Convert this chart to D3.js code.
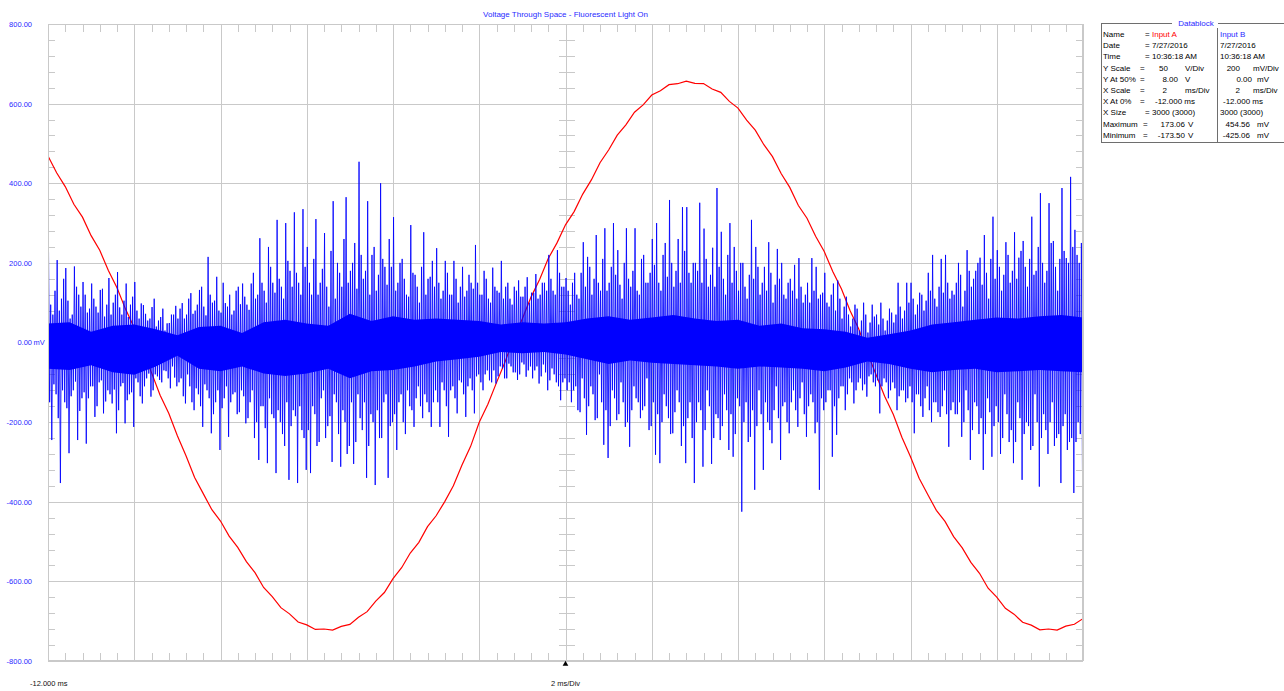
<!DOCTYPE html>
<html><head><meta charset="utf-8">
<script src="https://cdn.jsdelivr.net/npm/d3@7"></script>
<style>
html,body{margin:0;padding:0;background:#fff;overflow:hidden}
svg{display:block}
text{font-family:"Liberation Sans",Arial,sans-serif;font-size:8px}
</style></head><body>
<svg id="chart" width="1284" height="691"></svg>
<script>
// ---------- data ----------
const chartTitle = "Voltage Through Space - Fluorescent Light On";
const xMajorTicks = [-12,-10,-8,-6,-4,-2,0,2,4,6,8,10,12];           // ms
const yMajorTicks = [-800,-600,-400,-200,0,200,400,600,800];          // mV
const yTickLabels = ["-800.00","-600.00","-400.00","-200.00","0.00","200.00","400.00","600.00","800.00"];
const yUnitLabel = "mV";
const xStartLabel = "-12.000 ms";
const xDivLabel = "2 ms/Div";

// Input A (V), sampled every 0.2 ms from -12 ms
const inputAStart = -12, inputAStep = 0.2;
const inputA = [125.1,114.6,105.9,94.8,86.7,75.1,65.9,53.2,42.4,28.8,
17.3,2.4,-10.9,-25.1,-36.4,-50.6,-63.1,-76.8,-86.9,-97.0,
-104.1,-113.6,-120.7,-129.6,-136.5,-145.8,-151.6,-158.5,-162.4,-167.5,
-169.3,-172.2,-171.9,-172.6,-170.3,-169.0,-164.5,-161.0,-154.4,-149.0,
-140.3,-133.4,-124.2,-117.5,-107.6,-100.8,-91.9,-81.9,-68.9,-57.2,
-42.1,-30.8,-17.2,-4.1,10.8,22.9,36.5,47.6,60.7,70.4,
81.9,90.2,101.2,110.1,120.9,128.9,138.2,144.7,152.6,157.2,
163.4,166.1,169.9,170.5,172.1,170.7,170.6,167.2,165.1,159.4,
155.2,147.6,141.3,132.2,124.7,114.1,105.4,94.0,86.0,74.7,
65.1,52.4,41.6,27.9,16.5,1.5,-12.1,-25.8,-37.1,-51.5,
-63.8,-77.3,-87.5,-97.4,-104.3,-113.9,-121.0,-130.1,-136.9,-146.3,
-151.9,-158.9,-162.6,-167.7,-169.5,-172.4,-171.9,-172.6,-170.1,-168.9,
-165.4];
const inputAScale = 50, inputAAt50 = 8.00;   // V/Div, V at 50%

// Input B (mV): per 0.1 ms slot, largest spike up / down
const inputBStart = -12, inputBStep = 0.1;
const inputBHigh = [
227,70,207,110,187,60,191,120,152,75,148,90,132,65,162,100,177,70,148,95,152,60,94,55,89,40,64,30,49,70,
60,99,70,124,80,132,90,215,100,165,75,99,120,80,140,148,95,148,110,262,130,240,150,308,140,300,180,327,150,335,
240,120,310,150,275,90,355,200,140,365,180,250,454,160,355,220,130,400,190,260,315,150,210,120,295,170,100,277,160,205,
237,110,205,120,205,100,190,130,150,245,120,180,110,188,130,205,140,110,140,156,115,164,125,172,120,150,220,130,232,140,
162,95,175,110,252,215,120,270,130,287,150,300,232,110,287,140,287,120,220,150,260,300,130,250,358,140,260,340,340,150,
200,351,286,140,238,388,278,120,300,240,130,200,110,308,240,120,190,252,100,235,200,110,160,195,212,100,150,212,190,120,
175,90,148,156,60,115,40,95,30,100,25,95,70,100,30,85,50,150,60,150,150,70,125,80,175,220,90,210,220,110,
120,200,90,232,140,180,213,270,110,316,232,130,252,150,277,213,255,140,316,180,375,150,350,255,130,388,212,416,283,200];
const inputBLow = [
-245,-130,-353,-150,-278,-120,-245,-140,-254,-110,-187,-100,-178,-120,-153,-228,-110,-203,-130,-212,-100,-153,-90,-136,-80,-94,-70,-90,-60,-110,
-90,-153,-110,-170,-130,-212,-120,-228,-150,-270,-140,-237,-130,-180,-120,-203,-150,-240,-295,-160,-303,-180,-328,-200,-260,-345,-170,-353,-220,-320,
-328,-180,-250,-120,-210,-300,-150,-312,-200,-260,-305,-130,-220,-340,-180,-358,-240,-150,-340,-200,-270,-130,-230,-160,-212,-110,-190,-150,-212,-120,
-212,-120,-237,-110,-178,-100,-187,-90,-178,-80,-120,-70,-100,-103,-60,-90,-53,-75,-94,-50,-86,-60,-70,-103,-55,-120,-65,-100,-145,-90,
-100,-120,-170,-90,-232,-110,-195,-80,-257,-290,-120,-195,-100,-212,-262,-110,-150,-170,-90,-210,-282,-303,-130,-190,-228,-120,-260,-303,-150,-353,
-150,-312,-120,-305,-180,-245,-130,-270,-287,-140,-425,-150,-237,-370,-120,-320,-200,-253,-110,-295,-150,-228,-120,-212,-100,-237,-130,-228,-370,-170,
-120,-287,-232,-110,-170,-90,-153,-100,-120,-136,-80,-110,-178,-90,-140,-100,-170,-120,-150,-110,-228,-130,-187,-110,-200,-150,-187,-120,-262,-150,
-180,-237,-120,-295,-150,-230,-320,-140,-287,-160,-280,-130,-250,-303,-150,-345,-200,-270,-130,-362,-180,-280,-150,-240,-353,-180,-250,-378,-200,-320];
// Input B (mV): per 0.1 ms slot, second (smaller) swing up / down
const inputBMidHigh = [
95,130,80,160,105,70,140,90,120,85,110,75,135,95,70,120,88,105,64,115,80,98,72,60,110,55,85,48,70,92,
85,60,110,72,95,140,68,120,105,80,150,90,70,130,96,115,82,175,120,150,100,190,125,160,110,205,140,175,120,190,
150,210,120,185,140,230,110,175,260,150,200,135,220,180,120,240,170,210,145,190,130,200,160,115,175,140,190,120,165,140,
150,130,175,120,160,140,115,170,135,150,120,160,100,140,125,110,150,95,130,115,140,100,125,110,150,130,160,120,175,140,
130,150,120,175,140,190,160,150,210,130,190,170,145,200,160,180,130,210,150,175,195,150,220,165,200,180,150,230,175,200,
180,150,210,170,140,190,160,220,150,180,200,140,170,160,190,150,130,175,145,160,120,150,130,110,140,120,100,130,110,125,
100,120,80,110,90,70,60,85,55,70,50,65,45,60,55,75,70,90,80,100,110,95,120,105,130,110,140,125,150,130,
150,170,130,180,160,200,145,175,210,160,190,170,220,180,160,230,190,210,170,240,200,180,250,190,210,230,200,240,220,250];
const inputBMidLow = [
-150,-105,-190,-120,-165,-135,-98,-172,-125,-140,-110,-160,-95,-148,-130,-118,-170,-102,-145,-125,-90,-135,-110,-78,-120,-85,-100,-72,-115,-88,
-100,-135,-80,-150,-115,-160,-105,-140,-180,-120,-165,-110,-150,-125,-175,-135,-190,-120,-200,-160,-215,-140,-190,-170,-230,-150,-210,-185,-160,-240,
-220,-160,-260,-140,-240,-185,-130,-230,-170,-280,-150,-250,-190,-150,-260,-200,-170,-240,-130,-210,-180,-150,-200,-120,-170,-140,-160,-130,-175,-150,
-150,-100,-160,-120,-140,-95,-130,-110,-120,-85,-100,-80,-95,-70,-85,-65,-90,-60,-75,-80,-55,-70,-90,-60,-85,-75,-95,-80,-110,-100,
-120,-150,-110,-175,-140,-160,-130,-190,-150,-170,-210,-140,-180,-150,-200,-170,-140,-190,-160,-220,-150,-180,-200,-160,-230,-175,-150,-210,-190,-240,
-200,-170,-220,-160,-240,-190,-210,-170,-180,-230,-160,-200,-250,-170,-210,-180,-150,-220,-170,-190,-160,-200,-150,-170,-140,-180,-160,-150,-200,-140,
-150,-120,-160,-140,-110,-130,-100,-120,-90,-105,-85,-100,-95,-110,-100,-120,-115,-135,-120,-140,-150,-130,-160,-140,-170,-150,-175,-160,-180,-170,
-180,-150,-200,-170,-220,-160,-190,-230,-175,-210,-200,-240,-180,-220,-250,-190,-230,-210,-260,-200,-240,-220,-200,-260,-230,-210,-270,-240,-250,-230];
// Input B solid core band (mV), every 0.5 ms
const coreStep = 0.5;
const inputBCoreHigh = [48,51,27,42,45,33,18,39,42,24,51,57,48,42,72,54,66,57,60,57,54,45,51,48,51,60,66,57,63,69,60,54,57,42,48,36,33,27,12,21,30,45,51,57,63,60,66,69,63];
const inputBCoreLow = [-66,-69,-57,-75,-81,-60,-33,-66,-72,-60,-78,-84,-78,-66,-90,-72,-69,-60,-48,-42,-36,-24,-27,-24,-30,-42,-54,-45,-51,-54,-57,-60,-66,-60,-63,-66,-72,-63,-48,-54,-66,-75,-69,-66,-75,-72,-69,-72,-75];

// Datablock
const dbTitle = "Datablock";
const dbNames = ["Name","Date","Time","Y Scale","Y At 50%","X Scale","X At 0%","X Size","Maximum","Minimum"];
const dbValA = ["Input A","7/27/2016","10:36:18 AM","50","8.00","2","-12.000 ms","3000 (3000)","173.06","-173.50"];
const dbUnitA = ["","","","V/Div","V","ms/Div","","","V","V"];
const dbValB = ["Input B","7/27/2016","10:36:18 AM","200","0.00","2","-12.000 ms","3000 (3000)","454.56","-425.06"];
const dbUnitB = ["","","","mV/Div","mV","ms/Div","","","mV","mV"];

// ---------- drawing ----------
const L = 48, R = 1083, T = 24, B = 661;
const svg = d3.select("#chart");
const x = d3.scaleLinear().domain([-12, 12]).range([L, R]);
const y = d3.scaleLinear().domain([-800, 800]).range([B, T]);
const yA = d3.scaleLinear().domain([inputAAt50 - 4*inputAScale, inputAAt50 + 4*inputAScale]).range([B, T]);

const gridColor = "#c9c9c9";
const grid = svg.append("g").attr("stroke", gridColor).attr("stroke-width", 1).attr("shape-rendering", "crispEdges");
grid.selectAll(".vx").data(xMajorTicks).join("line")
  .attr("x1", d => Math.round(x(d)) + 0.5).attr("x2", d => Math.round(x(d)) + 0.5).attr("y1", T).attr("y2", B);
grid.selectAll(".hy").data(yMajorTicks).join("line")
  .attr("y1", d => Math.round(y(d)) + 0.5).attr("y2", d => Math.round(y(d)) + 0.5).attr("x1", L).attr("x2", R);

const xMinor = d3.range(-12, 12.0001, 0.4).filter(v => Math.abs(v/2 - Math.round(v/2)) > 1e-6);
const yMinor = d3.range(-800, 800.1, 40).filter(v => v % 200 !== 0);
const px = v => Math.round(x(v)) + 0.5, py = v => Math.round(y(v)) + 0.5;
const y0 = py(0), x0 = px(0);
xMinor.forEach(v => {
  grid.append("line").attr("x1", px(v)).attr("x2", px(v)).attr("y1", T).attr("y2", T + 8);
  grid.append("line").attr("x1", px(v)).attr("x2", px(v)).attr("y1", B - 8).attr("y2", B);
  grid.append("line").attr("x1", px(v)).attr("x2", px(v)).attr("y1", y0 - 8).attr("y2", y0 + 8);
});
yMinor.forEach(v => {
  grid.append("line").attr("y1", py(v)).attr("y2", py(v)).attr("x1", L).attr("x2", L + 7);
  grid.append("line").attr("y1", py(v)).attr("y2", py(v)).attr("x1", R - 7).attr("x2", R);
  grid.append("line").attr("y1", py(v)).attr("y2", py(v)).attr("x1", x0 - 8).attr("x2", x0 + 8);
});

svg.append("clipPath").attr("id", "plotclip").append("rect").attr("x", L).attr("y", T).attr("width", R - L).attr("height", B - T);
const plot = svg.append("g").attr("clip-path", "url(#plotclip)");

// Input A (red)
const lineA = d3.line().x((d, i) => x(inputAStart + i * inputAStep)).y(d => yA(d));
plot.append("path").datum(inputA).attr("d", lineA).attr("fill", "none").attr("stroke", "#ff0000").attr("stroke-width", 1.2);

// Input B solid core band
const core = inputBCoreHigh.map((h, i) => [h, inputBCoreLow[i]]);
const areaB = d3.area().x((d, i) => x(inputBStart + i * coreStep)).y0(d => y(d[1])).y1(d => y(d[0]));
plot.append("path").datum(core).attr("d", areaB).attr("fill", "#0000ff").attr("stroke", "none");

// Input B trace: spike up, small down, small up, spike down within each slot
const ptsB = [];
inputBHigh.forEach((h, i) => {
  const t = inputBStart + i * inputBStep;
  ptsB.push([t + 0.125 * inputBStep, h]);
  ptsB.push([t + 0.375 * inputBStep, inputBMidLow[i]]);
  ptsB.push([t + 0.625 * inputBStep, inputBMidHigh[i]]);
  ptsB.push([t + 0.875 * inputBStep, inputBLow[i]]);
});
const lineB = d3.line().x(d => x(d[0])).y(d => y(d[1]));
plot.append("path").datum(ptsB).attr("d", lineB).attr("fill", "none").attr("stroke", "#0000ff").attr("stroke-width", 0.85);

// plot border
svg.append("rect").attr("x", L + 0.5).attr("y", T + 0.5).attr("width", R - L - 1).attr("height", B - T - 1)
  .attr("fill", "none").attr("stroke", gridColor).attr("shape-rendering", "crispEdges");

// Y axis labels
const yAxis = d3.axisLeft(y).tickValues(yMajorTicks).tickFormat((d, i) => yTickLabels[i]).tickSize(0).tickPadding(0);
const ya = svg.append("g").attr("transform", "translate(32,0)").call(yAxis);
ya.select(".domain").remove();
ya.selectAll("text").attr("fill", "#2a2aff").style("font-size", "7.5px").style("font-family", "Liberation Sans, Arial, sans-serif");
svg.append("text").attr("x", 33.5).attr("y", y(0)).attr("dy", "0.32em").attr("fill", "#2a2aff").style("font-size", "7.5px").text(yUnitLabel);

// X labels
svg.append("text").attr("x", 30).attr("y", 686).attr("fill", "#111").style("font-size", "7.5px").text(xStartLabel);
svg.append("text").attr("x", x(0)).attr("y", 686).attr("text-anchor", "middle").attr("fill", "#111").style("font-size", "7.5px").text(xDivLabel);
svg.append("path").attr("d", d3.symbol(d3.symbolTriangle).size(14)()).attr("transform", `translate(${x(0)},${B + 3})`).attr("fill", "#000");

// title
svg.append("text").attr("x", x(0)).attr("y", 17).attr("text-anchor", "middle").attr("fill", "#2a2aff").text(chartTitle);

// Datablock
const db = svg.append("g");
const boxL = 1101.5, boxT = 23.5, boxB = 142.5, divX = 1217.5;
db.append("rect").attr("x", boxL).attr("y", boxT).attr("width", 300).attr("height", boxB - boxT)
  .attr("fill", "#fff").attr("stroke", "#6e6e6e").attr("shape-rendering", "crispEdges");
db.append("line").attr("x1", divX).attr("x2", divX).attr("y1", boxT).attr("y2", boxB).attr("stroke", "#6e6e6e").attr("shape-rendering", "crispEdges");
db.append("rect").attr("x", 1172).attr("y", 18).attr("width", 46).attr("height", 10).attr("fill", "#fff");
db.append("text").attr("x", 1196).attr("y", 26).attr("text-anchor", "middle").attr("fill", "#2a2aff").text(dbTitle);

const rowY = [34.5, 45.5, 56.5, 68, 79, 90, 101, 112.5, 124.5, 135.5];
const eqX = [1145, 1145, 1145, 1140, 1140, 1140, 1140, 1145, 1143, 1143];
const aPos = [[1152,"start"],[1152,"start"],[1152,"start"],[1168,"end"],[1178,"end"],[1167,"end"],[1155,"start"],[1152,"start"],[1185,"end"],[1185,"end"]];
const aUnitX = [0,0,0,1185,1185,1185,0,0,1188,1188];
const bPos = [[1220,"start"],[1220,"start"],[1220,"start"],[1240,"end"],[1252,"end"],[1240,"end"],[1223,"start"],[1220,"start"],[1250,"end"],[1250,"end"]];
const bUnitX = [0,0,0,1253,1257,1253,0,0,1257,1257];
const txt = (xx, yy, s, anchor, col) => db.append("text").attr("x", xx).attr("y", yy).attr("dy", "0.35em")
  .attr("text-anchor", anchor || "start").attr("fill", col || "#000").text(s);
dbNames.forEach((n, i) => {
  const yy = rowY[i];
  txt(1103, yy, n);
  txt(eqX[i], yy, "=");
  txt(aPos[i][0], yy, dbValA[i], aPos[i][1], i === 0 ? "#ff0000" : "#000");
  if (dbUnitA[i]) txt(aUnitX[i], yy, dbUnitA[i]);
  txt(bPos[i][0], yy, dbValB[i], bPos[i][1], i === 0 ? "#2a2aff" : "#000");
  if (dbUnitB[i]) txt(bUnitX[i], yy, dbUnitB[i]);
});
</script></body></html>
